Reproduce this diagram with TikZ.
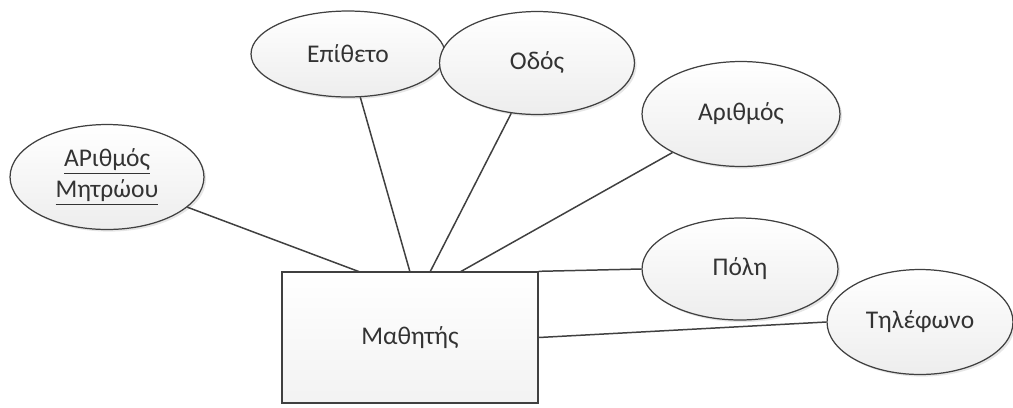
\documentclass[tikz,border=0pt]{standalone}
\usepackage{fontspec}
\setmainfont{Carlito}
\usepackage{tikz}
\usetikzlibrary{shapes.geometric}
\usetikzlibrary{shadows}
\definecolor{edgegray}{HTML}{404040}
\definecolor{txtgray}{HTML}{333333}
\tikzset{
  attr/.style={ellipse, draw=edgegray, line width=0.7pt, top color=white, bottom color=gray!14,
    minimum width=3.88cm, minimum height=2.08cm, inner sep=0pt, text=txtgray, align=center,
    font=\fontsize{14.5}{17}\selectfont,
    drop shadow={opacity=0.2, shadow xshift=1.2pt, shadow yshift=-1.2pt}},
  ent/.style={rectangle, draw=edgegray, line width=0.8pt, top color=white, bottom color=gray!10,
    minimum width=5.12cm, minimum height=2.62cm, text=txtgray,
    font=\fontsize{14.5}{17}\selectfont},
  link/.style={draw=edgegray, line width=0.85pt}
}
\newcommand{\attrib}[6]{ \node[attr, minimum width=#4, minimum height=#5] (#1) at (#2, #3) {#6};}
\begin{document}
\begin{tikzpicture}[x=0.02cm, y=-0.02cm]
        \useasboundingbox (0,0) rectangle (1013,407);
        % entity
        \node[ent] (math) at (410,337.5) {Μαθητής};
        % attributes
        \attrib{am}{107}{177}{3.88cm}{2.1cm}{\underline{ΑΡιθμός}\\[1pt]\underline{Μητρώου}}
        \attrib{epi}{348}{54}{3.88cm}{1.72cm}{Επίθετο}
        \attrib{odos}{537}{63}{3.9cm}{2.06cm}{Οδός}
        \attrib{arith}{741}{114}{3.96cm}{2.1cm}{Αριθμός}
        \attrib{poli}{740}{269}{3.92cm}{2.04cm}{Πόλη}
        \attrib{tel}{920}{322}{3.72cm}{2.1cm}{Τηλέφωνο}
        % points on the entity
        \coordinate (p1) at (360,272);
        \coordinate (p2) at (410,272);
        \coordinate (p3) at (430,272);
        \coordinate (p4) at (460,272);
        % links
        \draw[link] (am) -- (p1);
        \draw[link] (epi) -- (p2);
        \draw[link] (odos) -- (p3);
        \draw[link] (arith) -- (p4);
        \draw[link] (math.north east) -- (poli.west);
        \draw[link] (math.east) -- (tel.west);
    \end{tikzpicture}
\end{document}
